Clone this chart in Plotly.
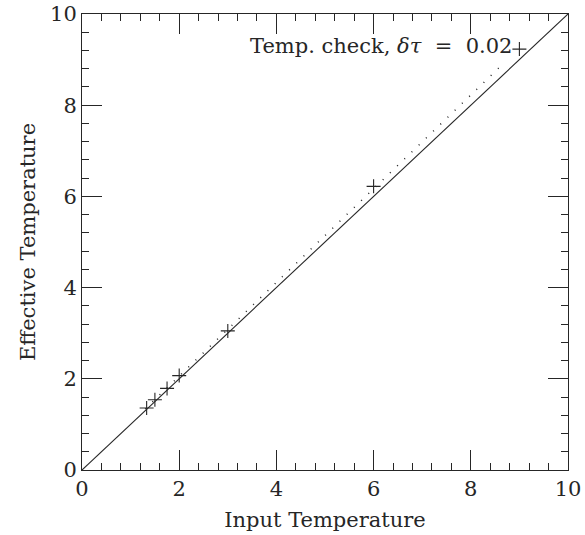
import plotly.graph_objects as go

# Data
input_temp = [1.33, 1.5, 1.75, 2.0, 3.0, 6.0, 9.0]
effective_temp = [1.36, 1.54, 1.79, 2.07, 3.05, 6.22, 9.23]

identity_x = [0, 10]
identity_y = [0, 10]

fit_x = [1.3, 8.6]
fit_y = [1.34, 8.84]

x_ticks = [0, 2, 4, 6, 8, 10]
y_ticks = [0, 2, 4, 6, 8, 10]

FONT = "DejaVu Serif"
INK = "#262626"

fig = go.Figure()
fig.add_trace(go.Scatter(x=identity_x, y=identity_y, mode="lines",
                         line=dict(color=INK, width=1.1), showlegend=False))
fig.add_trace(go.Scatter(x=fit_x, y=fit_y, mode="lines",
                         line=dict(color=INK, width=1.5, dash="1px,9px"), showlegend=False))
fig.add_trace(go.Scatter(x=input_temp, y=effective_temp, mode="markers",
                         marker=dict(symbol="cross-thin", size=10,
                                     line=dict(color=INK, width=1.1)),
                         showlegend=False))

fig.add_annotation(x=8.88, y=9.3, xref="x", yref="y", xanchor="right",
                   text="Temp. check, <i>δτ</i> &nbsp;= &nbsp;0.02", showarrow=False,
                   font=dict(family=FONT, size=21, color=INK))

axis_common = dict(
    range=[0, 10], tickmode="array", ticks="inside", ticklen=20, tickwidth=1,
    tickcolor=INK, showline=True, linecolor=INK, linewidth=1, mirror="ticks",
    showgrid=False, zeroline=False, automargin=False, ticklabeloverflow="allow",
    tickfont=dict(family=FONT, size=21, color=INK),
    minor=dict(dtick=0.4, ticks="inside", ticklen=7, tickcolor=INK, tickwidth=1, showgrid=False),
)

fig.update_xaxes(**axis_common, tickvals=x_ticks, ticktext=[str(v) for v in x_ticks],
                 title=dict(text="Input Temperature", font=dict(family=FONT, size=21, color=INK), standoff=12))
fig.update_yaxes(**axis_common, tickvals=y_ticks, ticktext=[str(v) for v in y_ticks],
                 title=dict(text="Effective Temperature", font=dict(family=FONT, size=21, color=INK), standoff=8))

fig.update_layout(
    width=585, height=535,
    margin=dict(l=82, r=17, t=14, b=65),
    paper_bgcolor="white", plot_bgcolor="white",
    font=dict(family=FONT, color=INK),
)

# Remove the default page margin so the figure sits at the window's corner.
fig.write_html("out.html", config={"displayModeBar": False},
               post_script="document.body.style.margin='0';document.body.style.overflow='hidden';")
